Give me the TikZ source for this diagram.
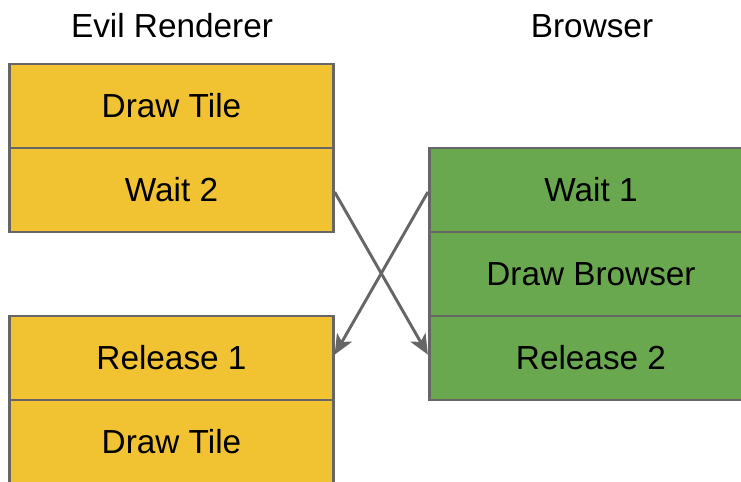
\documentclass[tikz,border=0pt]{standalone}
\usepackage{fontspec}
\setmainfont{Liberation Sans}
\usetikzlibrary{arrows.meta}

\definecolor{tileyellow}{HTML}{F1C232}
\definecolor{browsergreen}{HTML}{6AA84F}
\definecolor{edgegray}{HTML}{666666}

\tikzset{
  rowbox/.style={draw=edgegray, line width=2.2pt, minimum width=242.5pt, minimum height=63pt, inner sep=0pt, font=\fontsize{25pt}{25pt}\selectfont},
  evilrow/.style={rowbox, fill=tileyellow},
  browserrow/.style={rowbox, fill=browsergreen},
  title/.style={font=\fontsize{25pt}{25pt}\selectfont},
  handoff/.style={draw=edgegray, line width=2.2pt, -{Stealth[length=15pt,width=13pt,inset=4pt]}}
}

\begin{document}
\begin{tikzpicture}[x=0.75pt, y=-0.75pt]
            \useasboundingbox (0,0) rectangle (741,481);
            % titles
            \node [title] (eviltitle) at (172,26) {Evil Renderer};
            \node [title] (browsertitle) at (592,26) {Browser};
            % Evil Renderer top stack
            \node [evilrow] (draw1) at (171.5,106) {Draw Tile};
            \node [evilrow] (wait2) at (171.5,190) {Wait 2};
            % Evil Renderer bottom stack
            \node [evilrow] (release1) at (171.5,358) {Release 1};
            \node [evilrow] (draw2) at (171.5,442) {Draw Tile};
            % Browser stack
            \node [browserrow] (wait1) at (591,190) {Wait 1};
            \node [browserrow] (drawbrowser) at (591,274) {Draw Browser};
            \node [browserrow] (release2) at (591,358) {Release 2};
            % crossing arrows
            \draw [handoff] ([yshift=-1.5pt]wait2.east) -- ([yshift=2.5pt]release2.west);
            \draw [handoff] ([yshift=-1.5pt]wait1.west) -- ([yshift=2.5pt]release1.east);
         \end{tikzpicture}
\end{document}
